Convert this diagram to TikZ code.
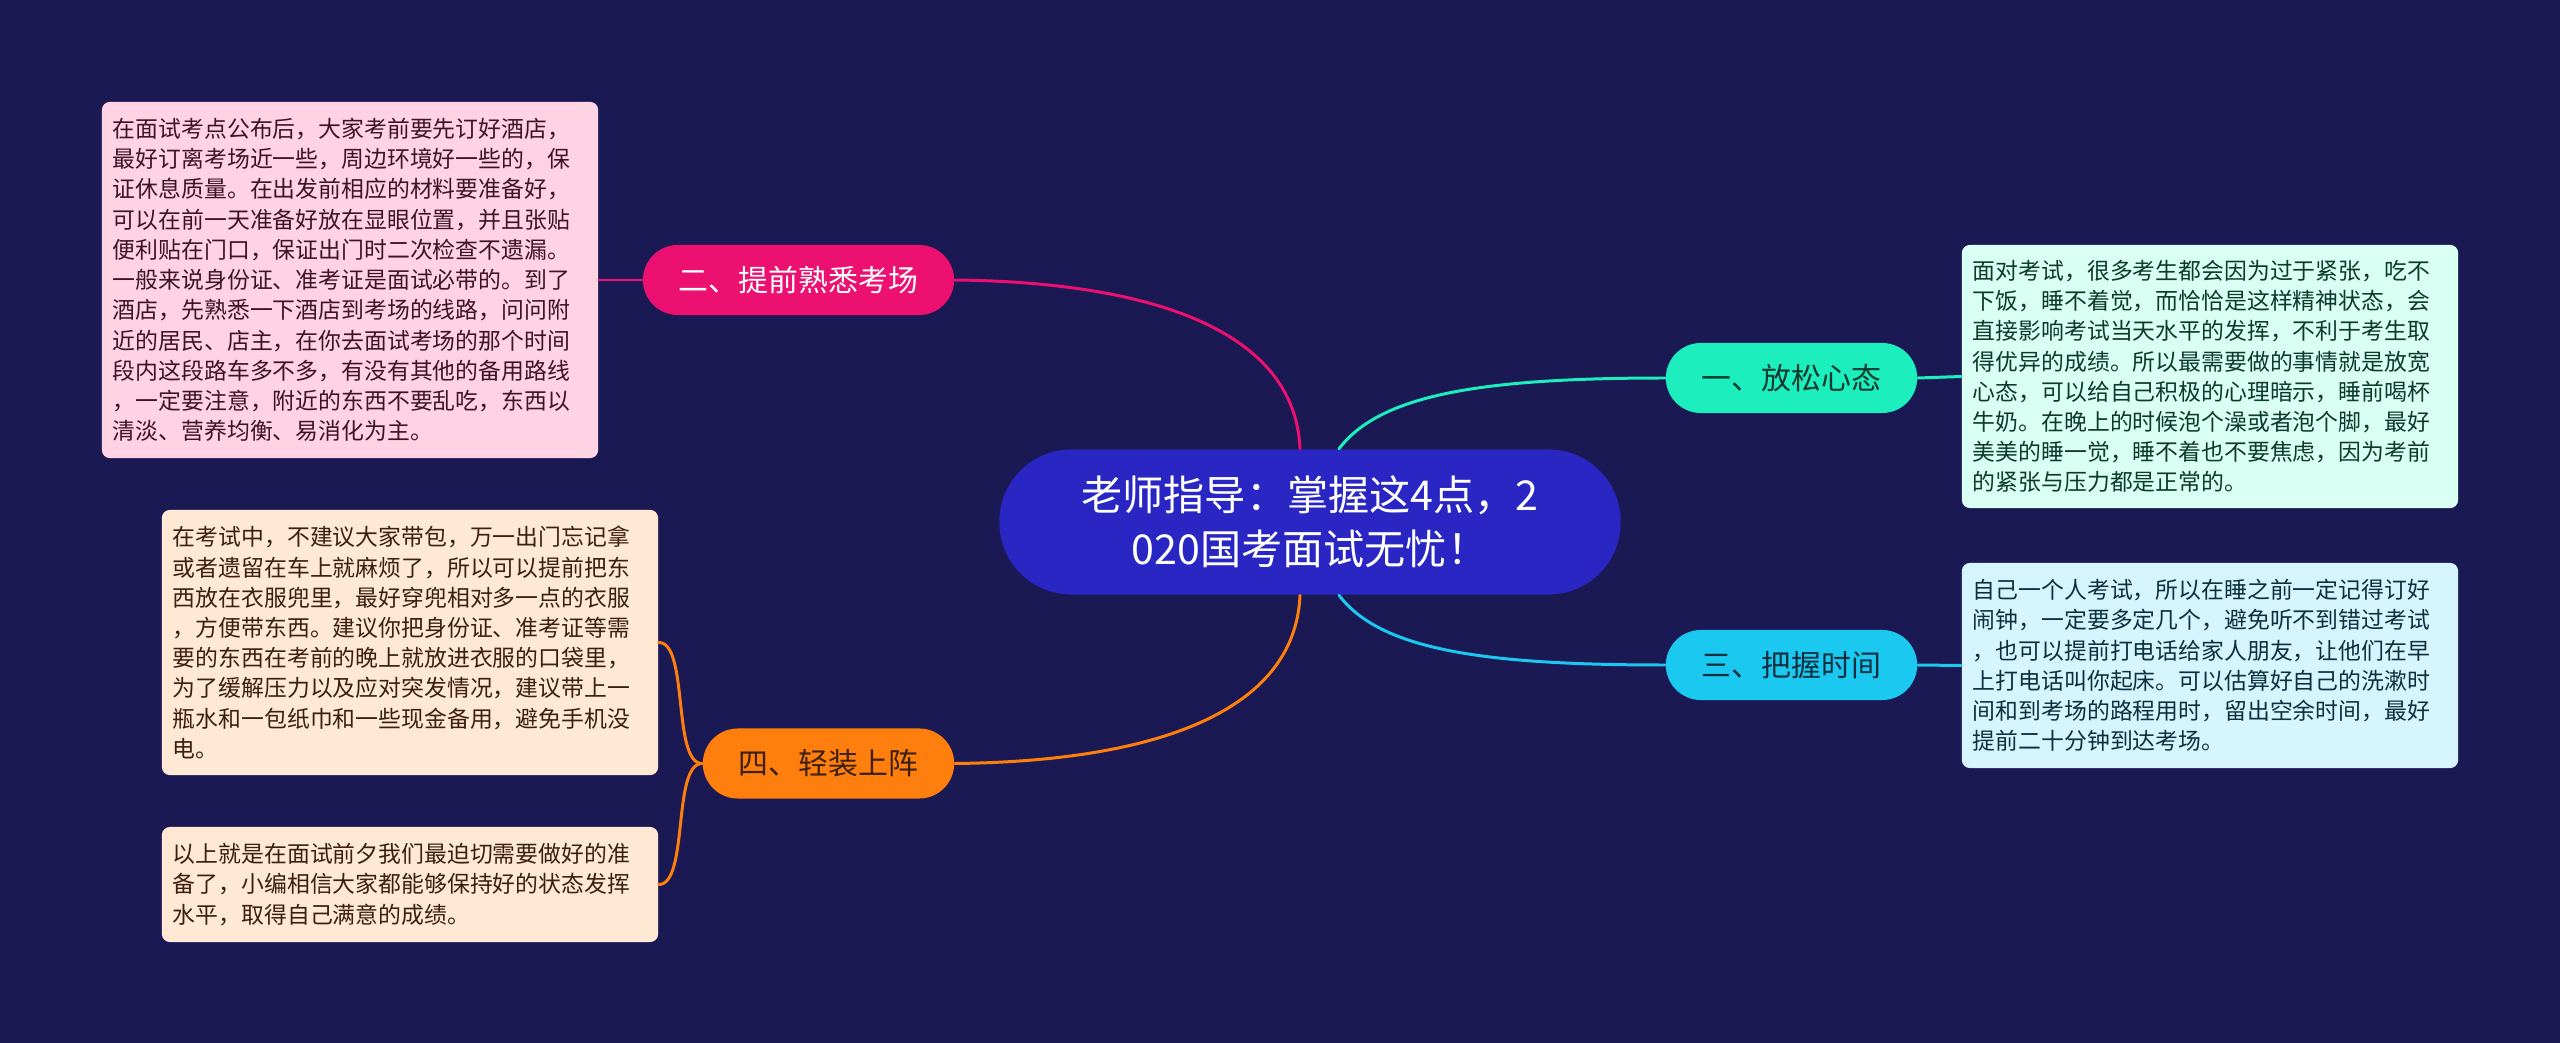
\documentclass[tikz,border=0pt]{standalone}
\usepackage{fontspec}
\setmainfont{Noto Sans CJK SC}
\usetikzlibrary{positioning,calc}

\begin{document}
\begin{tikzpicture}[
    x=0.01cm, y=-0.01cm,
    line join=round,
    line cap=round,
    pill/.style={rounded corners=0.35cm, minimum height=0.70cm, inner xsep=0.36cm,
        font=\fontsize{8.5pt}{10pt}\selectfont},
    leaf/.style={rounded corners=0.08cm, text width=4.74cm, inner xsep=0.11cm,
        align=left, font=\fontsize{6.5pt}{8.6pt}\selectfont},
    link/.style={line width=0.85pt}
]

% ========= Colors =========
\definecolor{bgcolor}{RGB}{27,25,83}
\definecolor{rootcolor}{RGB}{41,38,196}

\definecolor{magcolor}{RGB}{236,16,112}
\definecolor{magleaf}{RGB}{255,210,228}
\definecolor{magtext}{RGB}{60,20,35}

\definecolor{orcolor}{RGB}{255,127,14}
\definecolor{orleaf}{RGB}{255,232,212}
\definecolor{ortext}{RGB}{60,32,12}

\definecolor{mintcolor}{RGB}{29,238,190}
\definecolor{mintleaf}{RGB}{218,255,243}
\definecolor{minttext}{RGB}{12,58,45}

\definecolor{skycolor}{RGB}{27,200,240}
\definecolor{skyleaf}{RGB}{214,245,255}
\definecolor{skytext}{RGB}{12,48,64}

% ========= Background =========
\fill[bgcolor] (0,0) rectangle (2560,1043);
\useasboundingbox (0,0) rectangle (2560,1043);

% ========= Root =========
\node[fill=rootcolor, text=white, rounded corners=0.72cm, minimum width=6.21cm,
    minimum height=1.45cm, align=center, font=\fontsize{11.7pt}{15.4pt}\selectfont]
    (root) at (1310,522) {老师指导：掌握这4点，2\\020国考面试无忧！};

% ========= Branches =========
\node[pill, fill=mintcolor, text=minttext] (relax) at (1791.5,378) {一、放松心态};
\node[pill, fill=magcolor, text=white] (venue) at (798.5,280) {二、提前熟悉考场};
\node[pill, fill=skycolor, text=skytext] (timing) at (1791.5,665) {三、把握时间};
\node[pill, fill=orcolor, text=ortext] (light) at (828.5,763.5) {四、轻装上阵};

% ========= Leaves =========
\node[leaf, fill=magleaf, text=magtext, minimum height=3.56cm] (venueleaf) at (350,280)
{在面试考点公布后，大家考前要先订好酒店，\\
最好订离考场近一些，周边环境好一些的，保\\
证休息质量。在出发前相应的材料要准备好，\\
可以在前一天准备好放在显眼位置，并且张贴\\
便利贴在门口，保证出门时二次检查不遗漏。\\
一般来说身份证、准考证是面试必带的。到了\\
酒店，先熟悉一下酒店到考场的线路，问问附\\
近的居民、店主，在你去面试考场的那个时间\\
段内这段路车多不多，有没有其他的备用路线\\
，一定要注意，附近的东西不要乱吃，东西以\\
清淡、营养均衡、易消化为主。};

\node[leaf, fill=orleaf, text=ortext, minimum height=2.65cm] (lightleafa) at (410,642.5)
{在考试中，不建议大家带包，万一出门忘记拿\\
或者遗留在车上就麻烦了，所以可以提前把东\\
西放在衣服兜里，最好穿兜相对多一点的衣服\\
，方便带东西。建议你把身份证、准考证等需\\
要的东西在考前的晚上就放进衣服的口袋里，\\
为了缓解压力以及应对突发情况，建议带上一\\
瓶水和一包纸巾和一些现金备用，避免手机没\\
电。};

\node[leaf, fill=orleaf, text=ortext, minimum height=1.15cm] (lightleafb) at (410,884.5)
{以上就是在面试前夕我们最迫切需要做好的准\\
备了，小编相信大家都能够保持好的状态发挥\\
水平，取得自己满意的成绩。};

\node[leaf, fill=mintleaf, text=minttext, minimum height=2.63cm] (relaxleaf) at (2210,376.5)
{面对考试，很多考生都会因为过于紧张，吃不\\
下饭，睡不着觉，而恰恰是这样精神状态，会\\
直接影响考试当天水平的发挥，不利于考生取\\
得优异的成绩。所以最需要做的事情就是放宽\\
心态，可以给自己积极的心理暗示，睡前喝杯\\
牛奶。在晚上的时候泡个澡或者泡个脚，最好\\
美美的睡一觉，睡不着也不要焦虑，因为考前\\
的紧张与压力都是正常的。};

\node[leaf, fill=skyleaf, text=skytext, minimum height=2.05cm] (timingleaf) at (2210,665.5)
{自己一个人考试，所以在睡之前一定记得订好\\
闹钟，一定要多定几个，避免听不到错过考试\\
，也可以提前打电话给家人朋友，让他们在早\\
上打电话叫你起床。可以估算好自己的洗漱时\\
间和到考场的路程用时，留出空余时间，最好\\
提前二十分钟到达考场。};

% ========= Connectors =========
\draw[link, magcolor] ($(root.north)+(-10,0)$) .. controls +(-5,-119) and +(195,2) .. (venue.east);
\draw[link, orcolor] ($(root.south)+(-10,0)$) .. controls +(-5,119) and +(195,-2) .. (light.east);
\draw[link, mintcolor] ($(root.north)+(29,0)$) .. controls +(41,-54) and +(-185,0) .. (relax.west);
\draw[link, skycolor] ($(root.south)+(29,0)$) .. controls +(41,54) and +(-185,0) .. (timing.west);

\draw[link, magcolor] (venue.west) -- (venueleaf.east);
\draw[link, mintcolor] (relax.east) -- (relaxleaf.west);
\draw[link, skycolor] (timing.east) -- (timingleaf.west);
\draw[link, orcolor] (light.west) .. controls +(-30,0) and +(30,0) .. (lightleafa.east);
\draw[link, orcolor] (light.west) .. controls +(-30,0) and +(30,0) .. (lightleafb.east);

\end{tikzpicture}
\end{document}
